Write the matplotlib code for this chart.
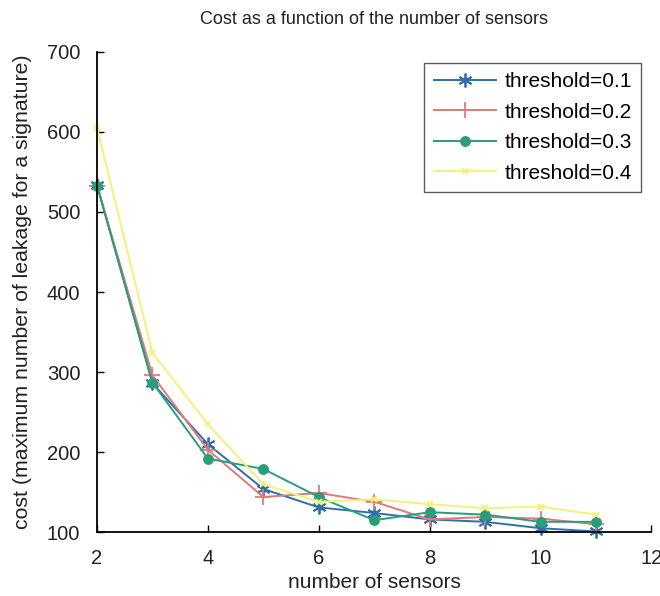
import matplotlib

matplotlib.use("Agg")
import matplotlib.pyplot as plt

plt.rcParams["font.family"] = ["Liberation Sans", "DejaVu Sans"]

SENSORS = [2, 3, 4, 5, 6, 7, 8, 9, 10, 11]
COST_01 = [534, 286, 210, 154, 131, 124, 116, 113, 105, 101]
COST_02 = [533, 296, 203, 144, 149, 138, 116, 119, 117, 110]
COST_03 = [533, 287, 192, 179, 144, 115, 125, 122, 113, 113]
COST_04 = [605, 324, 235, 160, 138, 141, 135, 130, 132, 122]
LABELS = ["threshold=0.1", "threshold=0.2", "threshold=0.3", "threshold=0.4"]

X_TICKS = [2, 4, 6, 8, 10, 12]
Y_TICKS = [100, 200, 300, 400, 500, 600, 700]

# colour, marker, marker size
STYLES = [
    ("#2f6fa8", (6, 2, 0), 10),
    ("#e07a78", "+", 11),
    ("#2a9d7a", "o", 6.5),
    ("#f2f27a", "x", 5),
]

fig = plt.figure(figsize=(6.6, 5.96), dpi=100)
ax = fig.add_axes([0.147, 0.107, 0.84, 0.806])

for values, label, (color, marker, size) in zip(
    [COST_01, COST_02, COST_03, COST_04], LABELS, STYLES
):
    ax.plot(
        SENSORS,
        values,
        color=color,
        marker=marker,
        markersize=size,
        markeredgewidth=1.3,
        lw=1.4,
        label=label,
        clip_on=False,
    )

ax.set_xlim(2, 12)
ax.set_ylim(100, 700)
ax.set_xticks(X_TICKS)
ax.set_yticks(Y_TICKS)
ax.tick_params(direction="in", labelsize=14.5, length=5, width=1, pad=12,
               labelcolor="#222222")
ax.spines["top"].set_visible(False)
ax.spines["right"].set_visible(False)
ax.spines["left"].set_linewidth(1.3)
ax.spines["bottom"].set_linewidth(1.3)

ax.set_xlabel("number of sensors", fontsize=15, color="#222222", labelpad=4)
ax.set_ylabel(
    "cost (maximum number of leakage for a signature)",
    fontsize=15.3,
    color="#222222",
    labelpad=11,
)
ax.set_title(
    "Cost as a function of the number of sensors",
    fontsize=13,
    color="#222222",
    pad=20,
)

leg = ax.legend(
    loc="upper right",
    bbox_to_anchor=(1.0 - 10 / 554, 1.0 - 11 / 480),
    fontsize=15,
    fancybox=False,
    edgecolor="#333333",
    handlelength=3.0,
    handletextpad=0.4,
    labelspacing=0.55,
    borderpad=0.45,
    borderaxespad=0,
)
leg.get_frame().set_linewidth(1.0)

fig.savefig("out.png", dpi=100)
